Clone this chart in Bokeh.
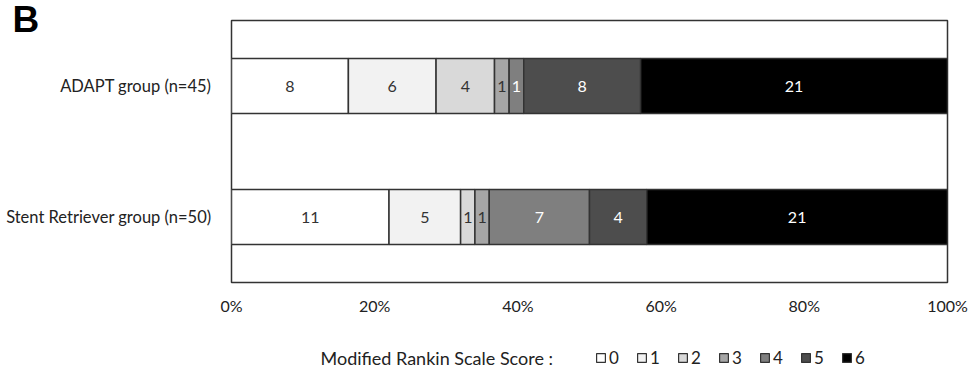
from bokeh.plotting import figure
from bokeh.models import (ColumnDataSource, FactorRange, Range1d, NumeralTickFormatter,
                          Legend, LegendItem, FixedTicker, Title, Label)
from bokeh.layouts import column
from bokeh.core.properties import value
from bokeh.embed import file_html
from bokeh.resources import INLINE

groups = ["ADAPT group (n=45)", "Stent Retriever group (n=50)"]
scores = ["0", "1", "2", "3", "4", "5", "6"]
adapt = [8, 6, 4, 1, 1, 8, 21]
stent = [11, 5, 1, 1, 7, 4, 21]
x_ticks = [0, 0.2, 0.4, 0.6, 0.8, 1.0]
colors = ["#ffffff", "#f2f2f2", "#d9d9d9", "#a6a6a6", "#7f7f7f", "#4d4d4d", "#000000"]
label_colors = ["#333333", "#333333", "#333333", "#333333", "#ffffff", "#ffffff", "#ffffff"]
legend_title = "Modified Rankin Scale Score :"
panel_letter = "B"

FONT = "Lato"
EDGE = "#333333"

p = figure(width=968, height=325, output_backend="svg", toolbar_location=None,
           x_range=Range1d(0, 1), y_range=FactorRange(factors=groups[::-1], range_padding=0),
           min_border_left=231, min_border_right=21, min_border_top=20, min_border_bottom=43)
p.xgrid.visible = False
p.ygrid.visible = False
p.outline_line_color = EDGE
p.outline_line_width = 1.5
p.background_fill_color = "white"
p.border_fill_color = "white"

data = {"ADAPT group (n=45)": adapt, "Stent Retriever group (n=50)": stent}
cum = {g: 0.0 for g in groups}
totals = {g: float(sum(data[g])) for g in groups}

tx, ty, tt, tc = [], [], [], []
for i, s in enumerate(scores):
    lefts, rights, ys = [], [], []
    for g in groups:
        v = data[g][i]
        l = cum[g]
        r = l + v / totals[g]
        cum[g] = r
        lefts.append(l); rights.append(r); ys.append(g)
        tx.append((l + r) / 2); ty.append(g); tt.append(str(v)); tc.append(label_colors[i])
    src = ColumnDataSource(dict(y=ys, left=lefts, right=rights))
    p.hbar(y="y", left="left", right="right", height=0.42, source=src,
           fill_color=colors[i], line_color=EDGE, line_width=1.5)

tsrc = ColumnDataSource(dict(x=tx, y=ty, t=tt, c=tc))
p.text(x="x", y="y", text="t", text_color="c", source=tsrc, text_align="center",
       text_baseline="middle", text_font=value(FONT), text_font_size="16px")

p.xaxis.ticker = FixedTicker(ticks=x_ticks)
p.xaxis.formatter = NumeralTickFormatter(format="0%")
for ax in (p.xaxis[0], p.yaxis[0]):
    ax.axis_line_color = None
    ax.major_tick_line_color = None
    ax.minor_tick_line_color = None
    ax.major_label_text_font = FONT
    ax.major_label_text_font_size = "16px"
    ax.major_label_text_color = "#222222"
p.yaxis.major_label_text_font_size = "16.5px"
p.xaxis.major_label_standoff = 7
p.yaxis.major_label_standoff = 14

title = Title(text=panel_letter, text_font="Liberation Sans", text_font_style="bold",
              text_font_size="37px", text_color="#000000", align="left", offset=-219,
              standoff=-39, text_line_height=0.7)
p.add_layout(title, "above")

# legend strip (its frame is aligned with the chart's frame by the column layout)
lg = figure(width=968, height=44, output_backend="svg", toolbar_location=None,
            x_range=Range1d(0, 1), y_range=Range1d(0, 1),
            min_border_left=0, min_border_right=0, min_border_top=0, min_border_bottom=0,
            x_axis_location=None, y_axis_location=None)
lg.xgrid.visible = False
lg.ygrid.visible = False
lg.outline_line_color = None
lg.background_fill_color = "white"
lg.border_fill_color = "white"

lg.add_layout(Label(x=0.1243, y=0.27, text=legend_title, text_font=FONT,
                    text_font_size="18px", text_baseline="middle", text_align="left",
                    text_color="#222222"))

# swatch renderers: one zero-size box each, so only the legend shows them
items = []
for i, s in enumerate(scores):
    sw = ColumnDataSource(dict(y=[0.5], left=[0.5], right=[0.5]))
    r = lg.hbar(source=sw, y="y", left="left", right="right", height=0,
                fill_color=colors[i], line_color=EDGE, line_width=1.2)
    items.append(LegendItem(label=s, renderers=[r]))

legend = Legend(items=items, orientation="horizontal", location=(364, 1),
                padding=0, margin=0, spacing=17, label_standoff=3, label_width=10,
                glyph_width=11, glyph_height=11, border_line_color=None,
                background_fill_alpha=0, label_text_font=FONT, label_text_font_size="17px",
                label_text_color="#222222", label_height=14)
lg.add_layout(legend, "center")

layout = column(p, lg, spacing=0)
open("out.html", "w").write(file_html(layout, INLINE))
